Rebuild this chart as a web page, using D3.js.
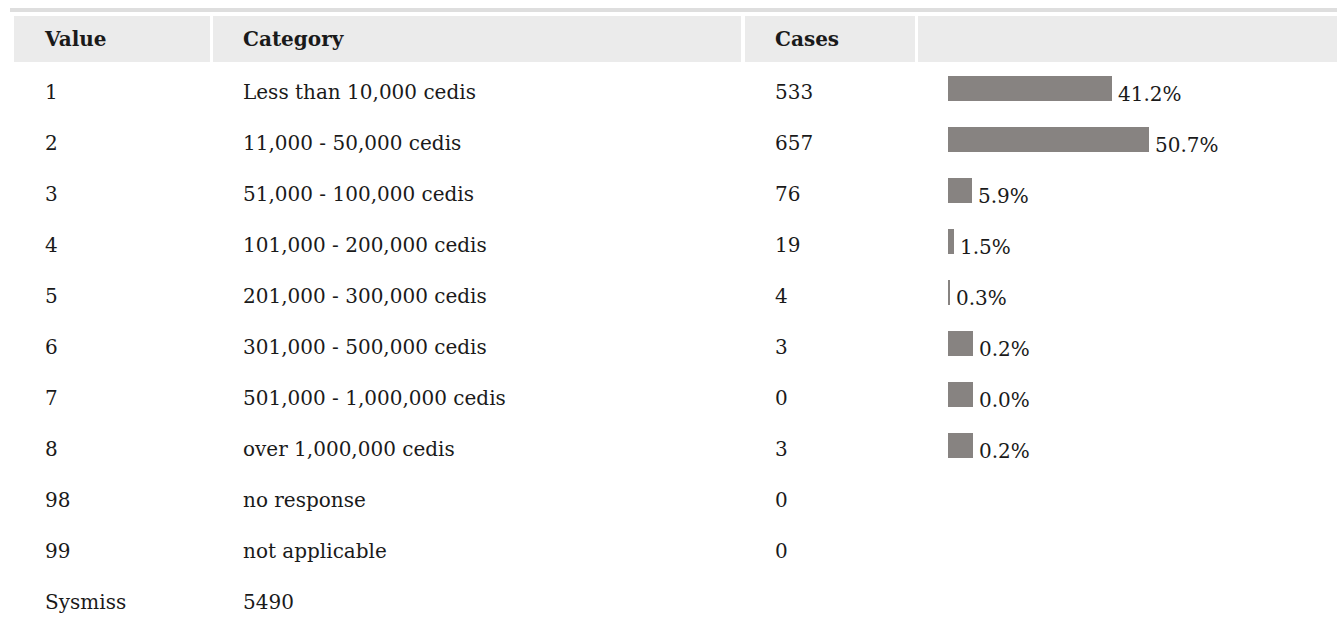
<!DOCTYPE html>
<html>
<head>
<meta charset="utf-8">
<script src="https://cdn.jsdelivr.net/npm/d3@7/dist/d3.min.js"></script>
<style>
  html, body { margin: 0; padding: 0; background: #fff; }
  svg { display: block; }
  text { font-family: "DejaVu Serif", serif; fill: #1a1a1a; }
</style>
</head>
<body>
<svg id="chart" width="1337" height="621"></svg>
<script>
// ---- data ----
const headers = ["Value", "Category", "Cases", ""];
const values = ["1", "2", "3", "4", "5", "6", "7", "8", "98", "99", "Sysmiss"];
const categories = ["Less than 10,000 cedis", "11,000 - 50,000 cedis", "51,000 - 100,000 cedis",
  "101,000 - 200,000 cedis", "201,000 - 300,000 cedis", "301,000 - 500,000 cedis",
  "501,000 - 1,000,000 cedis", "over 1,000,000 cedis", "no response", "not applicable", "5490"];
const cases = ["533", "657", "76", "19", "4", "3", "0", "3", "0", "0", ""];
const percents = [41.2, 50.7, 5.9, 1.5, 0.3, 0.2, 0.0, 0.2, null, null, null];

// ---- layout ----
const svg = d3.select("#chart");
const W = 1337;
const fontSize = 20;

const colEdges = [[14, 210], [213, 741], [745, 915], [918, W]];
const colTextX = [45, 243, 775, 948];

// top rule
svg.append("rect").attr("x", 10).attr("y", 8).attr("width", W - 10).attr("height", 4).attr("fill", "#dedede");

// header
const header = svg.append("g");
header.selectAll("rect").data(colEdges).join("rect")
  .attr("x", d => d[0]).attr("y", 16).attr("width", d => d[1] - d[0]).attr("height", 46)
  .attr("fill", "#ebebeb");
header.selectAll("text").data(headers).join("text")
  .attr("x", (d, i) => colTextX[i]).attr("y", 46)
  .attr("font-size", fontSize).attr("font-weight", "bold")
  .text(d => d);

// rows
const y = d3.scaleBand().domain(d3.range(values.length)).range([65, 65 + values.length * 51]);
const x = d3.scaleLinear().domain([0, 100]).range([0, 396]);
const barH = 25;
const naturalW = 25; // bar image drawn at natural size when its scaled width rounds to 0
const barW = p => { const w = Math.floor(x(p)); return w < 1 ? naturalW : Math.ceil(x(p)); };

const rows = svg.append("g").selectAll("g").data(d3.range(values.length)).join("g")
  .attr("transform", i => `translate(0,${y(i)})`);

rows.append("text").attr("x", colTextX[0]).attr("y", 34).attr("font-size", fontSize).text(i => values[i]);
rows.append("text").attr("x", colTextX[1]).attr("y", 34).attr("font-size", fontSize).text(i => categories[i]);
rows.append("text").attr("x", colTextX[2]).attr("y", 34).attr("font-size", fontSize).text(i => cases[i]);

const withBar = rows.filter(i => percents[i] !== null);
withBar.append("rect")
  .attr("x", colTextX[3]).attr("y", 36 - barH)
  .attr("width", i => barW(percents[i])).attr("height", barH)
  .attr("fill", "#878381");
withBar.append("text")
  .attr("x", i => colTextX[3] + barW(percents[i]) + 6).attr("y", 35.5)
  .attr("font-size", fontSize)
  .text(i => d3.format(".1f")(percents[i]) + "%");
</script>
</body>
</html>
